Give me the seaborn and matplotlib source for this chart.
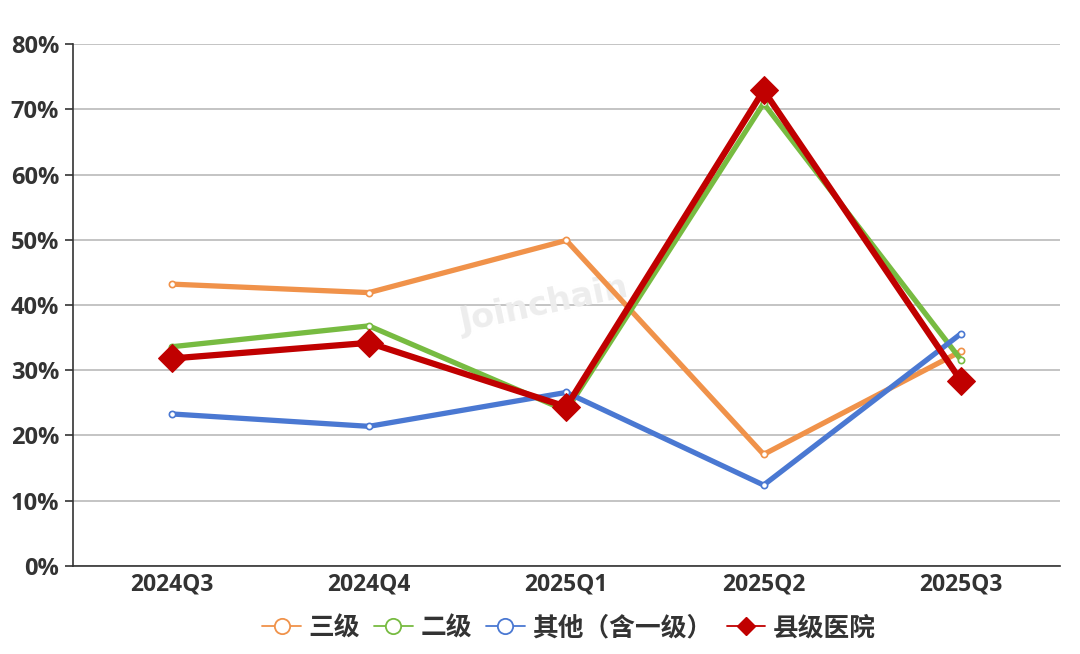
import seaborn as sns
import matplotlib.pyplot as plt
import pandas as pd
from matplotlib.ticker import FixedLocator, PercentFormatter
from matplotlib.lines import Line2D

quarters = ['2024Q3', '2024Q4', '2025Q1', '2025Q2', '2025Q3']
tier3 = [43.2, 41.9, 49.9, 17.1, 32.9]
tier2 = [33.6, 36.8, 23.8, 70.9, 31.6]
other = [23.3, 21.4, 26.6, 12.4, 35.6]
county = [31.8, 34.2, 24.4, 72.9, 28.4]

names = ['三级', '二级', '其他（含一级）', '县级医院']
colors = ['#f0924a', '#77bb41', '#4a78d2', '#c00000']

df = pd.DataFrame({'quarter': quarters, names[0]: tier3, names[1]: tier2,
                   names[2]: other, names[3]: county})
df['x'] = range(len(quarters))

sns.set_style('white')
plt.rcParams['font.family'] = ['Open Sans', 'Noto Sans CJK SC', 'DejaVu Sans']

fig = plt.figure(figsize=(10.8, 6.54), dpi=100)
ax = fig.add_axes([0.0676, 0.1346, 0.9135, 0.7981])

for name, c in zip(names[:3], colors[:3]):
    sns.lineplot(data=df, x='x', y=name, ax=ax, color=c, linewidth=3.8,
                 marker='o', markersize=4.5, markerfacecolor='white',
                 markeredgecolor=c, markeredgewidth=1.2, zorder=3)
sns.lineplot(data=df, x='x', y=names[3], ax=ax, color=colors[3], linewidth=4.5,
             marker='D', markersize=14, markeredgecolor=colors[3], zorder=4)

ax.set_xlim(-0.5, 4.5)
ax.set_ylim(0, 80)
ax.set_xlabel('')
ax.set_ylabel('')
ax.yaxis.set_major_locator(FixedLocator(range(0, 81, 10)))
ax.yaxis.set_major_formatter(PercentFormatter(decimals=0))
ax.grid(axis='y', color='#bfbfbf', linewidth=1.3, zorder=0)
ax.set_xticks(range(len(quarters)))
ax.set_xticklabels(quarters)
ax.set_xticks([i - 0.5 for i in range(len(quarters) + 1)], minor=True)
ax.tick_params(axis='x', which='major', length=0, pad=5)
ax.tick_params(axis='x', which='minor', length=6, width=1.2, color='#333333')
ax.tick_params(axis='y', length=6, width=1.2, color='#333333', pad=4, left=True)
for lbl in ax.get_xticklabels() + ax.get_yticklabels():
    lbl.set_fontweight('bold')
    lbl.set_color('#333333')
ax.tick_params(axis='x', labelsize=16.5)
ax.tick_params(axis='y', labelsize=17)

for s in ['top', 'right']:
    ax.spines[s].set_visible(False)
for s in ['left', 'bottom']:
    ax.spines[s].set_color('#333333')
    ax.spines[s].set_linewidth(1.2)

ax.text(0.478, 0.5, 'Joinchain', transform=ax.transAxes, fontsize=24,
        fontweight='bold', color='#ededed', rotation=12, ha='center',
        va='center', zorder=1, family='DejaVu Sans')

handles = []
for c in colors[:3]:
    handles.append(Line2D([], [], color=c, linewidth=1.3, marker='o', markersize=11,
                          markerfacecolor='white', markeredgecolor=c, markeredgewidth=1.3))
handles.append(Line2D([], [], color=colors[3], linewidth=1.3, marker='D', markersize=9,
                      markerfacecolor=colors[3], markeredgecolor=colors[3]))
leg = fig.legend(handles, names, loc='center', bbox_to_anchor=(0.527, 0.04), ncol=4,
                 frameon=False, handlelength=1.5, handletextpad=0.3, columnspacing=0.55,
                 prop={'size': 18.5, 'weight': 'bold'})
for t in leg.get_texts():
    t.set_color('#333333')

plt.savefig('out.png', dpi=100)
